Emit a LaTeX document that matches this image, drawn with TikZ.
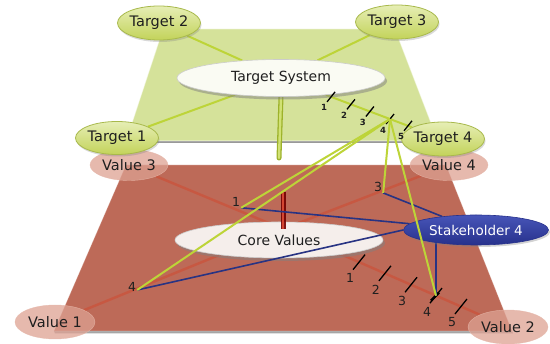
\documentclass[tikz,border=0pt]{standalone}
\usepackage{fontspec}
\setmainfont{DejaVu Sans}
\usetikzlibrary{shapes.geometric,shadows,calc}
\pgfdeclarelayer{L0}\pgfdeclarelayer{L1}\pgfdeclarelayer{L2}\pgfdeclarelayer{L3}\pgfdeclarelayer{L4}\pgfdeclarelayer{L5}
\pgfsetlayers{L0,L1,L2,L3,L4,L5,main}
\definecolor{gplane}{HTML}{D5E29A}
\definecolor{gline}{HTML}{BDD438}
\definecolor{gstickd}{HTML}{9DB22A}
\definecolor{tA}{HTML}{E6EEB5}
\definecolor{tB}{HTML}{C3D35A}
\definecolor{tdraw}{HTML}{A8B94C}
\definecolor{rplane}{HTML}{BD6A58}
\definecolor{rline}{HTML}{C9563F}
\definecolor{vfill}{HTML}{DDA192}
\definecolor{vdraw}{HTML}{E6B8AA}
\definecolor{bline}{HTML}{283383}
\definecolor{sA}{HTML}{4755B8}
\definecolor{sB}{HTML}{27318C}
\definecolor{coref}{HTML}{F5EEEB}
\definecolor{tsf}{HTML}{FAFBF3}
\begin{document}
\begin{tikzpicture}[x=1pt,y=-1pt,
  every node/.style={font=\fontsize{14.5}{17}\selectfont, text=black!88},
  ell/.style={ellipse, inner sep=0pt},
  target/.style={ell, minimum width=78pt, minimum height=34pt, top color=tA, bottom color=tB, draw=tdraw, line width=0.8pt,
    drop shadow={opacity=0.3, shadow xshift=1pt, shadow yshift=-2pt}},
  valuen/.style={ell, minimum width=80pt, minimum height=34pt, fill=vfill, fill opacity=0.75, text opacity=1, draw=vdraw, draw opacity=0.8},
  bigell/.style={ell, minimum width=208pt, minimum height=37pt, draw=black!20, line width=0.6pt, font=\fontsize{14}{16}\selectfont,
    drop shadow={opacity=0.5, shadow xshift=2pt, shadow yshift=-3pt}},
  gconn/.style={draw=gline, line width=2pt},
  rconn/.style={draw=rline, line width=2.5pt, opacity=0.85},
  bconn/.style={draw=bline, line width=1.6pt},
  tickmark/.style={draw=black, line width=1.3pt},
  gtl/.style={font=\fontsize{8.5}{10}\selectfont\bfseries, inner sep=0pt},
  rtl/.style={font=\fontsize{12.5}{14}\selectfont, inner sep=0pt},
  nlab/.style={font=\fontsize{12.5}{14}\selectfont, inner sep=1pt},
]
\useasboundingbox (0,0) rectangle (550,344);

% ---------- red plane ----------
\begin{pgfonlayer}{L0}
\coordinate (rp1) at (126,165);
\coordinate (rp2) at (446,165);
\coordinate (rp3) at (512,331);
\coordinate (rp4) at (54,331);
\fill[black!35] ($(rp4)+(1,2.5)$) -- ($(rp3)+(1,2.5)$) -- (rp3) -- (rp4) -- cycle;
\fill[rplane] (rp1) -- (rp2) -- (rp3) -- (rp4) -- cycle;
\draw[white, opacity=0.25, line width=0.8pt] (rp1) -- (rp2) -- (rp3) -- (rp4) -- cycle;
\end{pgfonlayer}

\begin{pgfonlayer}{L2}
\node[valuen, minimum width=78pt, minimum height=31pt] (v3) at (129,165) {Value 3};
\node[valuen, minimum width=78pt, minimum height=31pt] (v4) at (449,165) {Value 4};
\node[valuen] (v1) at (55,322) {Value 1};
\node[valuen] (v2) at (508,327) {Value 2};
\coordinate (corehub) at (283,229);
\node[bigell, fill=coref, minimum height=36pt] (core) at (279,240) {Core Values};
\coordinate (rstick) at (283,192);
\draw[draw=red!45!black, line width=5pt, opacity=0.9] (rstick) -- (corehub);
\draw[draw=rline!80!red, line width=2.4pt] (rstick) -- (corehub);
\foreach \t/\n in {0.338/1,0.453/2,0.569/3,0.68/4,0.791/5}{
  \coordinate (rt\n) at ($(corehub)!\t!(v2)$);
  \draw[tickmark] ($(rt\n)+(-6,7.5)$) -- ($(rt\n)+(6,-7.5)$);
  \node[rtl] (rl\n) at ($(rt\n)+(-9,16)$) {\n};
}
\draw[tickmark, line width=2.4pt] ($(rt4)+(-5,5)$) -- ($(rt4)+(3,-3)$);
\end{pgfonlayer}

\begin{pgfonlayer}{L1}
\draw[rconn] (v3) -- (corehub);
\draw[rconn] (v4) -- (corehub);
\draw[rconn] (v1) -- (corehub);
\draw[rconn] (corehub) -- (v2);
\end{pgfonlayer}

% ---------- green plane ----------
\begin{pgfonlayer}{L3}
\coordinate (gp1) at (163,29);
\coordinate (gp2) at (395,29);
\coordinate (gp3) at (438,141);
\coordinate (gp4) at (126,141);
\fill[black!40] ($(gp4)+(0,2.5)$) -- ($(gp3)+(0,2.5)$) -- (gp3) -- (gp4) -- cycle;
\fill[gplane] (gp1) -- (gp2) -- (gp3) -- (gp4) -- cycle;
\draw[white, opacity=0.5, line width=1pt] (gp1) -- (gp2) -- (gp3) -- (gp4) -- cycle;
\end{pgfonlayer}

\node[bigell, fill=tsf] (ts) at (281,78) {Target System};
\node[target] (t2) at (159,23) {Target 2};
\node[target] (t3) at (397,22) {Target 3};
\node[target, minimum height=33pt] (t1) at (117,138) {Target 1};
\node[target] (t4) at (443,139) {Target 4};

\begin{pgfonlayer}{L4}
\draw[gconn] (t2) -- (ts);
\draw[gconn] (t3) -- (ts);
\draw[gconn] (t1) -- (ts);
\draw[gconn] (ts) -- (t4);
\coordinate (gstick) at (279,158);
\draw[draw=gstickd, line width=5pt, line cap=round] (ts.south) -- (gstick);
\draw[draw=gline!70!white, line width=2.4pt, line cap=round] (ts.south) -- (gstick);
\end{pgfonlayer}

\foreach \t/\n in {0.309/1,0.432/2,0.549/3,0.673/4,0.784/5}{
  \coordinate (gt\n) at ($(ts)!\t!(t4)$);
  \draw[tickmark] ($(gt\n)+(-4,5)$) -- ($(gt\n)+(4,-5)$);
  \node[gtl] (gl\n) at ($(gt\n)+(-7,11)$) {\n};
}

% ---------- labels on red plane ----------
\node[nlab] (n1) at (236,202) {1};
\node[nlab] (n4) at (132,287) {4};
\node[nlab] (n3) at (378,187) {3};

\node[ell, minimum width=145pt, minimum height=30pt, top color=sA, bottom color=sB, draw=sB, line width=0.6pt,
  text=white, font=\fontsize{13.5}{15}\selectfont,
  drop shadow={opacity=0.35, shadow xshift=1.5pt, shadow yshift=-2pt}] (sh) at (476,230) {Stakeholder 4};

\begin{pgfonlayer}{L5}
\draw[bconn] (n1.south east) -- (sh);
\draw[bconn] (n4.-30) -- (sh.west);
\draw[bconn] (n3.south east) -- (sh);
\draw[bconn] (rt4 |- sh.center) -- (rt4);
\end{pgfonlayer}

\draw[gconn] (gt4) -- (n1.south east);
\draw[gconn] (gt4) -- (n4.-30);
\draw[gconn] (gt4) -- (n3.south east);
\draw[gconn] (gt4) -- (rt4);
\end{tikzpicture}
\end{document}
